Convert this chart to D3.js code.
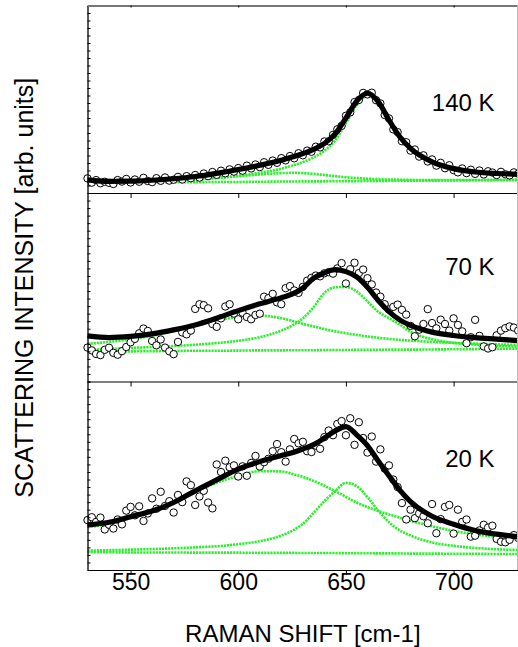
<!DOCTYPE html>
<html>
<head>
<meta charset="utf-8">
<script src="https://cdn.jsdelivr.net/npm/d3@7"></script>
<style>
html,body{margin:0;padding:0;background:#fff;}
svg{display:block;font-family:"Liberation Sans",Arial,Helvetica,sans-serif;}
</style>
</head>
<body>
<svg id="chart" width="518" height="647"></svg>
<script>
// ---------- DATA ----------
const xTicks = [550, 600, 650, 700];
const panelLabels = ["140 K", "70 K", "20 K"];
const xTitle = "RAMAN SHIFT [cm-1]";
const yTitle = "SCATTERING INTENSITY [arb. units]";

// measured points (Raman shift, cm-1)
const shiftPts = [530,532,534,536,538,540,542,544,546,548,
  550,552,554,556,558,560,562,564,566,568,
  570,572,574,576,578,580,582,584,586,588,
  590,592,594,596,598,600,602,604,606,608,
  610,612,614,616,618,620,622,624,626,628,
  630,632,634,636,638,640,642,644,646,648,
  650,652,654,656,658,660,662,664,666,668,
  670,672,674,676,678,680,682,684,686,688,
  690,692,694,696,698,700,702,704,706,708,
  710,712,714,716,718,720,722,724,726,728,730];

const obs140 = [7.8,5.5,6.9,5.2,6.0,5.4,4.8,6.9,6.1,7.5,
  5.6,7.2,6.0,8.1,6.4,5.8,7.9,6.5,8.3,6.6,
  7.1,8.6,7.2,9.0,7.9,9.6,8.2,10.4,9.0,11.2,
  9.7,11.9,10.5,12.6,11.4,13.3,11.9,14.6,13.1,15.2,
  13.8,16.4,15.0,17.3,16.1,18.6,17.4,19.7,18.5,21.2,
  20.1,22.6,22.0,24.7,24.3,27.5,27.6,31.0,34.0,35.8,
  41.2,43.0,48.5,49.6,53.4,52.6,53.5,49.5,47.8,41.6,
  39.8,33.9,32.5,27.6,27.1,22.6,23.2,19.4,20.1,16.8,
  17.9,14.6,16.1,13.2,14.8,12.2,11.0,13.1,10.6,12.4,
  10.2,12.0,9.9,11.6,10.9,9.6,11.3,10.0,9.4,11.0,10.3];

const obs70 = [18.0,16.5,14.6,14.0,16.8,17.9,15.2,14.2,16.1,18.3,
  20.8,22.6,25.6,28.1,26.8,21.5,19.2,22.3,18.0,16.0,
  14.5,21.0,26.0,25.0,27.0,38.5,41.0,40.5,38.8,30.5,
  29.0,33.5,39.8,41.0,36.0,33.0,36.5,34.2,33.0,35.3,
  36.0,45.0,44.2,46.5,42.0,41.0,49.5,50.6,48.3,47.0,
  50.2,53.5,55.0,56.2,55.8,57.4,58.0,57.2,60.0,62.8,
  52.0,59.6,63.0,57.5,59.4,54.8,51.5,47.2,45.0,41.0,
  38.2,39.6,40.8,38.0,35.5,29.5,24.0,27.5,30.5,38.4,
  31.0,28.2,32.8,30.5,27.0,33.5,30.0,26.6,20.3,23.5,
  32.7,24.2,18.6,17.5,18.2,24.5,27.0,28.3,29.2,28.6,27.0];

const obs20 = [26.5,28.0,25.5,27.8,21.5,24.0,22.0,26.8,24.2,31.5,
  33.5,29.0,33.8,26.0,30.0,38.0,32.5,41.5,34.0,36.5,
  30.5,39.8,36.0,47.0,45.0,34.5,39.0,42.0,35.8,32.7,
  56.0,52.0,58.0,54.5,55.5,49.6,55.0,50.0,56.8,60.5,
  54.9,57.2,59.0,63.0,66.8,62.5,57.5,64.0,69.5,67.2,
  68.0,63.0,62.6,66.0,64.3,70.5,74.0,71.5,77.5,79.0,
  71.5,80.5,66.4,78.4,70.0,62.3,70.8,57.5,64.0,53.8,
  55.5,48.0,44.0,35.5,26.8,32.0,27.5,30.0,28.5,24.8,
  35.0,19.5,27.0,33.5,34.5,19.3,32.0,25.5,26.8,17.7,
  18.2,21.0,24.0,22.5,23.5,16.5,15.0,14.7,16.0,18.5,17.0];

// fitted curves (sampled)
const fitX = [530,540,550,560,570,580,590,600,610,620,625,630,635,640,645,650,655,660,665,670,675,680,690,700,710,720,730];

const fit140  = [7.0,6.2,6.3,6.8,7.6,8.8,10.5,12.5,14.8,17.5,19.2,21.0,23.3,26.4,31.5,40.0,49.0,53.2,48.7,38.9,30.0,23.8,16.6,13.0,11.2,10.4,10.0];
const main140 = [6.4,5.8,5.8,6.1,6.5,7.1,8.0,9.2,10.8,13.0,14.6,16.5,19.0,22.5,28.0,37.2,46.8,51.8,47.6,38.0,29.3,23.2,16.1,12.6,10.8,10.1,9.7];
const side140 = [6.0,6.1,6.3,6.5,6.8,7.3,8.0,8.9,9.9,10.6,10.8,10.6,10.2,9.6,9.0,8.4,8.0,7.6,7.4,7.2,7.1,7.0,6.9,6.9,6.9,6.9,7.0];
const base140 = [5.6,5.6,5.7,5.7,5.8,5.8,5.9,5.9,6.0,6.1,6.1,6.2,6.2,6.2,6.3,6.3,6.3,6.4,6.4,6.5,6.5,6.5,6.6,6.7,6.8,6.9,7.0];

const fit70   = [24.2,23.3,23.9,25.3,27.4,30.0,33.6,37.6,41.2,44.5,46.3,49.5,54.8,57.6,59.3,58.3,55.5,50.0,43.0,37.1,32.7,29.8,26.2,24.4,23.3,22.5,21.7];
const compA70 = [20.0,21.0,22.4,24.3,26.8,29.6,32.3,34.2,34.9,33.6,32.2,30.6,29.2,27.8,26.6,25.6,24.7,23.9,23.2,22.6,22.1,21.7,21.0,20.5,20.1,19.7,19.4];
const compB70 = [16.8,17.3,17.8,18.3,18.8,19.5,20.4,21.6,23.5,27.0,29.7,33.5,39.5,47.0,50.0,50.2,47.8,42.5,37.0,33.6,30.2,26.3,22.5,20.5,19.6,18.9,18.5];
const base70  = [15.9,16.0,16.0,16.1,16.2,16.3,16.3,16.4,16.5,16.5,16.6,16.6,16.6,16.7,16.7,16.7,16.8,16.8,16.8,16.9,16.9,16.9,17.0,17.1,17.2,17.3,17.4];

const fit20   = [23.9,25.3,28.3,31.3,35.8,42.0,47.8,53.5,57.5,60.7,62.2,64.2,66.5,70.0,73.8,76.1,71.7,66.0,57.8,50.0,42.4,36.3,28.5,24.3,21.0,19.0,17.6];
const compA20 = [22.7,24.5,27.5,31.0,35.5,41.3,46.3,49.9,52.4,52.3,51.0,49.4,47.3,44.7,41.8,38.8,35.8,33.4,31.3,29.5,27.8,26.1,23.2,20.7,18.9,17.6,16.7];
const compB20 = [10.3,10.5,10.8,11.1,11.5,12.0,12.6,13.7,15.3,18.3,20.8,24.5,30.3,36.5,41.8,46.2,44.5,38.7,31.5,25.4,21.0,18.3,14.6,12.8,11.7,11.0,10.6];
const base20  = [9.4,9.4,9.3,9.3,9.3,9.2,9.2,9.2,9.1,9.1,9.1,9.0,9.0,9.0,9.0,8.9,8.9,8.9,8.8,8.8,8.8,8.7,8.7,8.6,8.6,8.5,8.5];

// ---------- LAYOUT ----------
const svg = d3.select("#chart");
const left = 87.5, right = 518.2;
const panelTops = [5.5, 193, 381.5, 570];
const x = d3.scaleLinear().domain([530, 730]).range([left, right]);
const GREEN = "#2cf02c";

const panels = [
  {obs: obs140, fit: fit140, comps: [base140, side140, main140], label: panelLabels[0], lv: 44},
  {obs: obs70,  fit: fit70,  comps: [base70, compA70, compB70],   label: panelLabels[1], lv: 56.5},
  {obs: obs20,  fit: fit20,  comps: [base20, compA20, compB20],   label: panelLabels[2], lv: 54.6}
];

panels.forEach((p, i) => {
  const top = panelTops[i], bottom = panelTops[i + 1];
  const y = d3.scaleLinear().domain([0, 100]).range([bottom, top]);
  const g = svg.append("g");
  const line = d3.line().x((d, k) => x(fitX[k])).y(d => y(d)).curve(d3.curveMonotoneX);

  // green components
  p.comps.forEach(c => {
    g.append("path").datum(c).attr("d", line)
      .attr("fill", "none").attr("stroke", GREEN)
      .attr("stroke-width", 2.6).attr("stroke-dasharray", "2.2,0.9");
  });

  // observed points
  g.selectAll("circle").data(p.obs).join("circle")
    .attr("cx", (d, k) => x(shiftPts[k])).attr("cy", d => y(d))
    .attr("r", 3.7).attr("fill", "#fff").attr("stroke", "#000").attr("stroke-width", 1);

  // total fit
  g.append("path").datum(p.fit).attr("d", line)
    .attr("fill", "none").attr("stroke", "#000").attr("stroke-width", 5.2);

  // left axis minor ticks
  const ya = d3.axisRight(y).tickValues(d3.range(0, 101, 4)).tickSizeInner(3).tickSizeOuter(0).tickFormat("");
  const yg = svg.append("g").attr("transform", `translate(${left},0)`).call(ya);
  yg.select(".domain").attr("stroke", "#000").attr("stroke-width", 1.3);

  // bottom axis of panel
  const xa = d3.axisBottom(x).tickValues(xTicks).tickSizeInner(5).tickSizeOuter(0)
    .tickFormat(i === 2 ? d3.format("d") : "");
  const xg = svg.append("g").attr("transform", `translate(0,${bottom})`).call(xa);
  xg.select(".domain").attr("stroke", "#000").attr("stroke-width", 1.2);
  xg.selectAll("text").attr("y", 4).attr("dy", "0.71em")
    .attr("font-size", 23).attr("font-family", "Liberation Sans, Arial, sans-serif").attr("fill", "#000");

  // panel label
  svg.append("text").attr("x", x(719)).attr("y", y(p.lv))
    .attr("text-anchor", "end").attr("font-size", 24).attr("fill", "#000").text(p.label);
});

// top frame
const ta = d3.axisBottom(x).tickValues(xTicks).tickSizeInner(2).tickSizeOuter(0).tickFormat("");
const tg = svg.append("g").attr("transform", `translate(0,${panelTops[0]})`).call(ta);
tg.select(".domain").attr("stroke", "#777").attr("stroke-width", 2);
svg.append("line").attr("x1", 517.5).attr("x2", 517.5).attr("y1", panelTops[0]).attr("y2", panelTops[3])
  .attr("stroke", "#bbb").attr("stroke-width", 1);

// titles
svg.append("text").attr("x", (left + right) / 2).attr("y", 642)
  .attr("text-anchor", "middle").attr("font-size", 24).attr("fill", "#000").text(xTitle);
svg.append("text").attr("transform", `translate(33,${(panelTops[0] + panelTops[3]) / 2}) rotate(-90)`)
  .attr("text-anchor", "middle").attr("font-size", 25).attr("fill", "#000").text(yTitle);
</script>
</body>
</html>
